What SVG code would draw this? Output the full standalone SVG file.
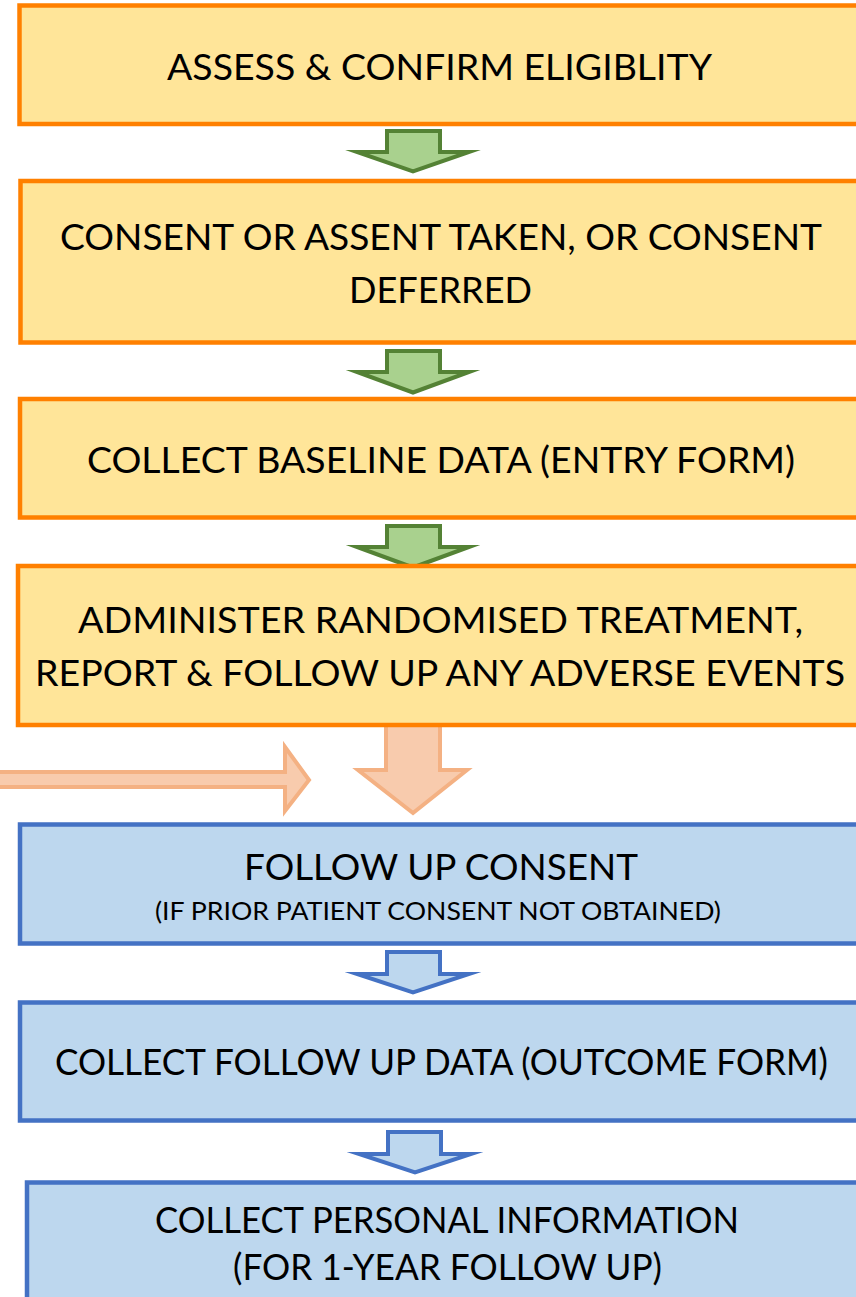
<svg xmlns="http://www.w3.org/2000/svg" width="856" height="1297" viewBox="0 0 856 1297">
  <style>
    .warm { fill: #FFE599; stroke: #FF8000; stroke-width: 4.5; }
    .cool { fill: #BDD7EE; stroke: #4472C4; stroke-width: 4.5; }
    .green { fill: #A9D18E; stroke: #548235; stroke-width: 4; stroke-miterlimit: 10; }
    .blue { fill: #BDD7EE; stroke: #4472C4; stroke-width: 4; stroke-miterlimit: 10; }
    .peach { fill: #F8CBAD; stroke: #F4B183; stroke-width: 4; }
    text { font-family: "Lato", "Open Sans", "Liberation Sans", sans-serif; fill: #000; text-anchor: middle; }
    .big { font-size: 37px; }
    .small { font-size: 25px; }
  </style>

  <!-- connectors: block arrows between the steps -->
  <g id="connectors">
    <path class="green" d="M387 131 H440 V152 H469 L413 171.5 L357 152 H387 Z"/>
    <path class="green" d="M387 351 H440 V372 H469 L413 392.5 L357 372 H387 Z"/>
    <path class="green" d="M387 526 H440 V547 H469 L413 567.5 L357 547 H387 Z"/>
    <path class="peach" d="M386 724 H440 V770 H467 L413 813 L358 770 H386 Z"/>
    <path class="peach" d="M-5 772 H285 V747 L309 780 L285 811 V787 H-5 Z"/>
    <path class="blue" d="M387 952 H440 V974 H469 L413 992.5 L357 974 H387 Z"/>
    <path class="blue" d="M388 1132 H441 V1154 H471 L415 1172.5 L359 1154 H388 Z"/>
  </g>

  <g id="step-eligibility">
    <rect class="warm" x="19.5" y="5.5" width="842" height="118.5"/>
    <text class="big" x="439.5" y="80" textLength="545" lengthAdjust="spacingAndGlyphs">ASSESS &amp; CONFIRM ELIGIBLITY</text>
  </g>

  <g id="step-consent">
    <rect class="warm" x="20.5" y="181" width="842" height="161.5"/>
    <text class="big" x="441" y="250" textLength="762" lengthAdjust="spacingAndGlyphs">CONSENT OR ASSENT TAKEN, OR CONSENT</text>
    <text class="big" x="440.5" y="303" textLength="183" lengthAdjust="spacingAndGlyphs">DEFERRED</text>
  </g>

  <g id="step-baseline">
    <rect class="warm" x="20" y="399" width="842" height="118.5"/>
    <text class="big" x="441" y="473" textLength="708" lengthAdjust="spacingAndGlyphs">COLLECT BASELINE DATA (ENTRY FORM)</text>
  </g>

  <g id="step-treatment">
    <rect class="warm" x="18" y="566" width="844" height="159"/>
    <text class="big" x="440.5" y="633" textLength="725" lengthAdjust="spacingAndGlyphs">ADMINISTER RANDOMISED TREATMENT,</text>
    <text class="big" x="440" y="686" textLength="810" lengthAdjust="spacingAndGlyphs">REPORT &amp; FOLLOW UP ANY ADVERSE EVENTS</text>
  </g>

  <g id="step-followup-consent">
    <rect class="cool" x="20" y="824.5" width="842" height="119"/>
    <text class="big" x="441" y="880" textLength="394" lengthAdjust="spacingAndGlyphs">FOLLOW UP CONSENT</text>
    <text class="small" x="438" y="920" textLength="566" lengthAdjust="spacingAndGlyphs">(IF PRIOR PATIENT CONSENT NOT OBTAINED)</text>
  </g>

  <g id="step-outcome">
    <rect class="cool" x="20" y="1002.5" width="842" height="118"/>
    <text class="big" x="441.5" y="1075" textLength="773" lengthAdjust="spacingAndGlyphs">COLLECT FOLLOW UP DATA (OUTCOME FORM)</text>
  </g>

  <g id="step-personal-info">
    <rect class="cool" x="27" y="1182.5" width="842" height="130"/>
    <text class="big" x="447" y="1233" textLength="584" lengthAdjust="spacingAndGlyphs">COLLECT PERSONAL INFORMATION</text>
    <text class="big" x="447.5" y="1280" textLength="429" lengthAdjust="spacingAndGlyphs">(FOR 1-YEAR FOLLOW UP)</text>
  </g>
</svg>
